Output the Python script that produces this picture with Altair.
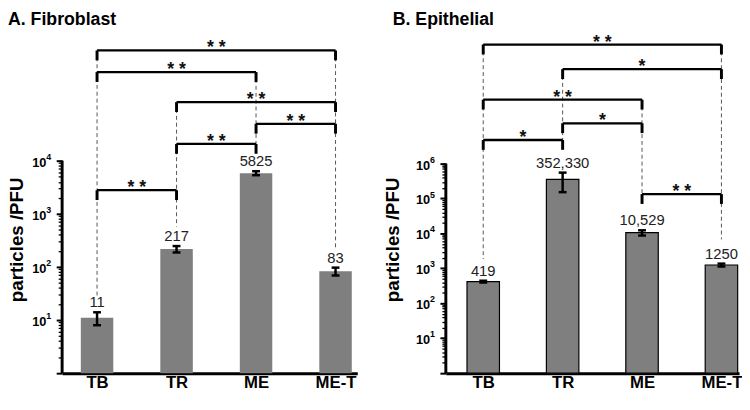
import json
import altair as alt
import pandas as pd

# ---------------- data ----------------
categories = ["TB", "TR", "ME", "ME-T"]

fib_values = [11, 217, 5825, 83]
fib_errors = [3, 30, 500, 14]
fib_labels = ["11", "217", "5825", "83"]

epi_values = [419, 352330, 10529, 1250]
epi_errors = [25, 200000, 1800, 120]
epi_labels = ["419", "352,330", "10,529", "1250"]

# significance brackets (pairs, stars, bracket height in log10 units)
fib_br_from = ["TB", "TB", "TR", "ME", "TR", "TB"]
fib_br_to = ["ME-T", "ME", "ME-T", "ME-T", "ME", "TR"]
fib_br_stars = ["* *", "* *", "* *", "* *", "* *", "* *"]
fib_br_level = [6.074, 5.667, 5.102, 4.694, 4.315, 3.444]
fib_guide_end = [1.463, 2.759, 4.315, 2.370]

epi_br_from = ["TB", "TR", "TB", "TR", "TB", "ME"]
epi_br_to = ["ME-T", "ME-T", "ME", "ME", "TR", "ME-T"]
epi_br_stars = ["* *", "*", "* *", "*", "*", "* *"]
epi_br_level = [9.408, 8.704, 7.831, 7.155, 6.676, 5.127]
epi_guide_end = [3.268, 6.676, 5.127, 3.831]

fib_axis_top = 4
epi_axis_top = 6

FONT = "Liberation Sans"
PLOT_H = 356
MAJOR = "abs(log(datum.value)/LN10 - round(log(datum.value)/LN10)) < 0.001"


def make_panel(title, values, errors, labels, br_from, br_to, br_stars, br_level,
               guide_end, axis_top, y_top, x_lo, x_hi, width, bar_kw, title_x, title_dx):
    pos = {c: i for i, c in enumerate(categories)}
    bars = pd.DataFrame({"cat": categories, "i": list(range(len(categories))),
                         "v": values, "e": errors, "lab": labels})
    bars["lo"] = bars["v"] - bars["e"]
    bars["hi"] = bars["v"] + bars["e"]
    bars["base"] = 1.0

    br = pd.DataFrame({"a": [pos[c] for c in br_from], "b": [pos[c] for c in br_to],
                       "s": br_stars, "y": [10 ** l for l in br_level]})
    br["mid"] = (br["a"] + br["b"]) / 2
    ends = pd.DataFrame({"i": list(br["a"]) + list(br["b"]),
                         "y": list(br["y"]) * 2})

    guide_top = []
    for c in categories:
        lv = [l for f, t, l in zip(br_from, br_to, br_level) if c in (f, t)]
        guide_top.append(10 ** max(lv))
    guides = pd.DataFrame({"i": list(range(len(categories))), "top": guide_top,
                           "bot": [10 ** g for g in guide_end]})

    decades = pd.DataFrame({"y": [10 ** k for k in range(1, axis_top + 1)],
                            "exp": [str(k) for k in range(1, axis_top + 1)]})
    spine = pd.DataFrame({"lo": [1.0], "hi": [10.0 ** axis_top]})
    tick_values = [m * 10 ** k for k in range(axis_top) for m in range(1, 10)] + [10 ** axis_top]

    xs = alt.Scale(domain=[x_lo, x_hi], nice=False, zero=False, padding=0)
    ys = alt.Scale(type="log", domain=[1, 10 ** y_top], nice=False, padding=0)

    x_axis = alt.Axis(values=list(range(len(categories))),
                      labelExpr=json.dumps(categories) + "[datum.value]",
                      title=None, grid=False, ticks=False, domainWidth=3,
                      domainColor="black", labelFont=FONT, labelFontSize=17,
                      labelFontWeight="bold", labelColor="black", labelPadding=2,
                      labelAngle=0, labelFlush=False)
    y_axis = alt.Axis(title="particles /PFU", values=tick_values, labels=False,
                      domain=False, grid=False, tickColor="black",
                      tickSize={"condition": {"test": MAJOR, "value": 6}, "value": 4},
                      tickWidth={"condition": {"test": MAJOR, "value": 2}, "value": 1.3},
                      titleFont=FONT, titleFontSize=19, titleFontWeight="bold",
                      titleColor="black", titleX=title_x, titleY=220, titleAngle=270,
                      titleAlign="center", titleBaseline="middle")

    def X(f):
        return alt.X(f, scale=xs, axis=x_axis)

    def Y(f):
        return alt.Y(f, scale=ys, axis=y_axis)

    guide_l = alt.Chart(guides).mark_rule(strokeDash=[4, 3], strokeWidth=1, color="#555").encode(
        x=X("i:Q"), y=Y("top:Q"), y2="bot:Q")
    bar_l = alt.Chart(bars).mark_bar(size=33, **bar_kw).encode(
        x=X("i:Q"), y=Y("v:Q"), y2="base:Q")
    err_l = alt.Chart(bars).mark_rule(strokeWidth=2.5, color="black").encode(
        x=X("i:Q"), y=Y("lo:Q"), y2="hi:Q")
    cap_hi = alt.Chart(bars).mark_rule(strokeWidth=2.5, color="black", xOffset=-4, x2Offset=4).encode(
        x=X("i:Q"), x2="i:Q", y=Y("hi:Q"))
    cap_lo = alt.Chart(bars).mark_rule(strokeWidth=2.5, color="black", xOffset=-4, x2Offset=4).encode(
        x=X("i:Q"), x2="i:Q", y=Y("lo:Q"))
    val_l = alt.Chart(bars).mark_text(dy=-5, baseline="alphabetic", font=FONT, fontSize=15,
                                      color="#222").encode(
        x=X("i:Q"), y=Y("hi:Q"), text="lab:N")
    spine_l = alt.Chart(spine).mark_rule(strokeWidth=3, color="black").encode(
        x=alt.value(0), y=Y("lo:Q"), y2="hi:Q")
    brh_l = alt.Chart(br).mark_rule(strokeWidth=2.3, color="black").encode(
        x=X("a:Q"), x2="b:Q", y=Y("y:Q"))
    brt_l = alt.Chart(ends).mark_rule(strokeWidth=3, color="black", y2Offset=10).encode(
        x=X("i:Q"), y=Y("y:Q"), y2="y:Q")
    star_l = alt.Chart(br).mark_text(dy=3, baseline="alphabetic", font=FONT, fontSize=18,
                                     fontWeight="bold", color="#111").encode(
        x=X("mid:Q"), y=Y("y:Q"), text="s:N")
    ten_l = alt.Chart(decades).mark_text(align="right", baseline="middle", dy=2, font=FONT,
                                         fontSize=13, fontWeight="bold", color="black").encode(
        x=alt.value(-16), y=Y("y:Q"), text=alt.value("10"))
    exp_l = alt.Chart(decades).mark_text(align="left", baseline="middle", dy=-4, font=FONT,
                                         fontSize=9, fontWeight="bold", color="black").encode(
        x=alt.value(-16), y=Y("y:Q"), text="exp:N")

    return alt.layer(bar_l, guide_l, err_l, cap_hi, cap_lo, val_l, spine_l, brh_l, brt_l,
                     star_l, ten_l, exp_l).properties(
        width=width, height=PLOT_H,
        title=alt.TitleParams(title, anchor="start", frame="group", font=FONT, fontSize=18,
                              fontWeight="bold", color="black", offset=-6, dx=title_dx))


left = make_panel("A. Fibroblast", fib_values, fib_errors, fib_labels, fib_br_from, fib_br_to,
                  fib_br_stars, fib_br_level, fib_guide_end, fib_axis_top, 6.593,
                  -0.4394, 3.2735, 300, {"color": "#7f7f7f"}, -46, -55)
right = make_panel("B. Epithelial", epi_values, epi_errors, epi_labels, epi_br_from, epi_br_to,
                   epi_br_stars, epi_br_level, epi_guide_end, epi_axis_top, 10.028,
                   -0.4709, 3.2218, 298,
                   {"color": "#7f7f7f", "stroke": "black", "strokeWidth": 1.2}, -54, -54)

chart = alt.hconcat(left, right, spacing=90, bounds="flush").properties(padding=0).configure_view(stroke=None)
chart.save("out.html", embed_options={"renderer": "svg", "actions": False})
